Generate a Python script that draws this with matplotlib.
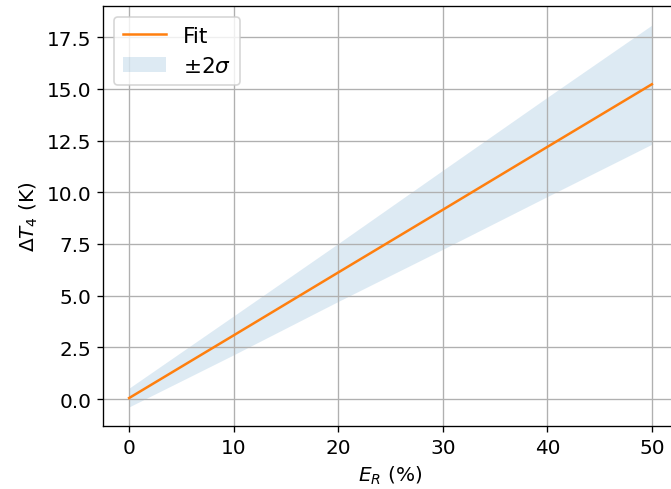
import matplotlib
matplotlib.use("Agg")
import matplotlib.pyplot as plt

# values
er = [0, 10, 20, 30, 40, 50]
fit = [0.05, 3.08, 6.12, 9.15, 12.19, 15.22]
upper = [0.53, 4.02, 7.52, 11.06, 14.59, 18.08]
lower = [-0.38, 2.14, 4.72, 7.24, 9.79, 12.32]

DPI = 120
plt.rcParams["font.size"] = 12
fig = plt.figure(figsize=(671 / DPI, 490 / DPI), dpi=DPI)
ax = fig.add_axes([103 / 671, 63 / 490, 575 / 671, 420 / 490])

ax.plot(er, fit, color="C1", label="Fit")
ax.fill_between(er, lower, upper, color="C0", alpha=0.15, linewidth=0, label=r"$\pm 2\sigma$")
ax.grid(True)
ax.set_xlabel(r"$E_R$ (%)")
ax.set_ylabel(r"$\Delta T_4$ (K)")
ax.legend(loc="upper left", fontsize=13)

fig.savefig("out.png", dpi=DPI)
